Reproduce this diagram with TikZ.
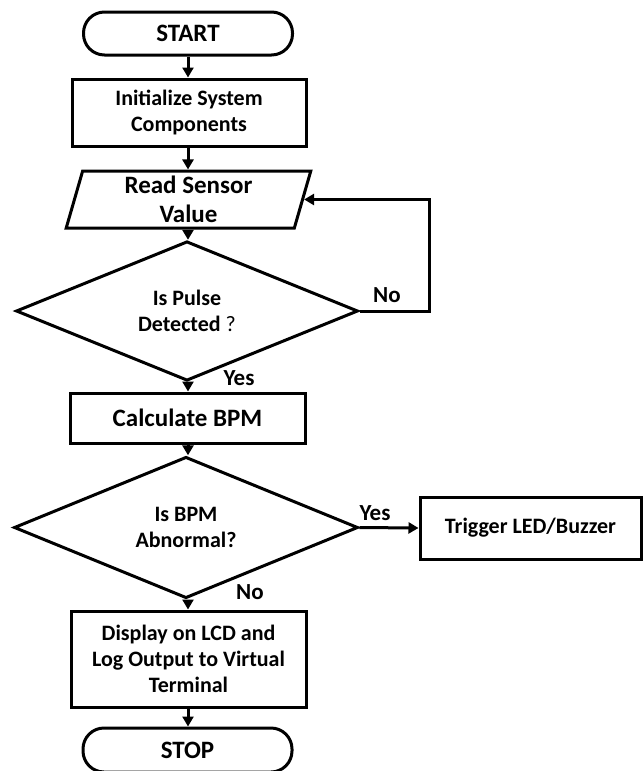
\documentclass[tikz,border=0pt]{standalone}
\usepackage{fontspec}
\setmainfont{Carlito}
\usetikzlibrary{shapes.geometric,arrows.meta}
\begin{document}
\begin{tikzpicture}[x=1pt,y=-1pt,
  base/.style={draw=black, line width=3pt, font=\fontsize{22}{26}\selectfont\bfseries, align=center, inner sep=0pt},
  big/.style={font=\fontsize{25}{29}\selectfont\bfseries},
  proc/.style={base, rectangle},
  term/.style={base, big, rectangle, rounded corners=21pt},
  io/.style={base, trapezium, trapezium left angle=78, trapezium right angle=102, trapezium stretches=true},
  decide/.style={base, diamond},
  arr/.style={line width=3pt, -{Triangle[length=10pt,width=11pt]}},
  lbl/.style={font=\fontsize{23}{26}\selectfont\bfseries, inner sep=0pt}
]
\useasboundingbox (0,0) rectangle (644,771);
\node[term, minimum width=209pt, minimum height=43pt] (start) at (188,33.5) {START};
\node[proc, minimum width=234pt, minimum height=67pt] (init) at (189,112.5) {Initialize System\\Components};
\node[io, big, minimum width=245pt, minimum height=57pt] (read) at (188.5,199.5) {Read Sensor\\Value};
\node[decide, minimum width=342pt, minimum height=116pt] (dec1) at (187,311) {Is Pulse\\Detected {\mdseries ?}};
\node[proc, big, minimum width=235pt, minimum height=50pt] (calc) at (187.5,418) {Calculate BPM};
\node[decide, minimum width=344pt, minimum height=117pt] (dec2) at (186,527.5) {Is BPM\\Abnormal?};
\node[proc, minimum width=221pt, minimum height=62pt] (trig) at (530.5,528) {Trigger LED/Buzzer};
\node[proc, minimum width=235pt, minimum height=96pt] (disp) at (188.5,659) {Display on LCD and\\Log Output to Virtual\\Terminal};
\node[term, minimum width=209pt, minimum height=44pt] (stop) at (187.5,750) {STOP};

\node[lbl] (no1) at (387,295) {No};
\node[lbl] (yes1) at (239,378) {Yes};
\node[lbl] (yes2) at (375,513) {Yes};
\node[lbl] (no2) at (250,592) {No};

\coordinate (cx) at (188,0);
\draw[arr] (start.south -| cx) -- (init.north -| cx);
\draw[arr] (init.south -| cx) -- (read.north -| cx);
\draw[arr] (read.south -| cx) -- (dec1.north -| cx);
\draw[arr] (dec1.south -| cx) -- (calc.north -| cx);
\draw[arr] (calc.south -| cx) -- (dec2.north -| cx);
\draw[arr] (dec2.south -| cx) -- (disp.north -| cx);
\draw[arr] (disp.south -| cx) -- (stop.north -| cx);
\draw[arr] (dec2.east) -- (trig.west);
\coordinate (loopx) at (429,0);
\draw[arr] (dec1.east) -- (dec1.east -| loopx) -- (read.east -| loopx) -- (read.east);
\end{tikzpicture}
\end{document}
